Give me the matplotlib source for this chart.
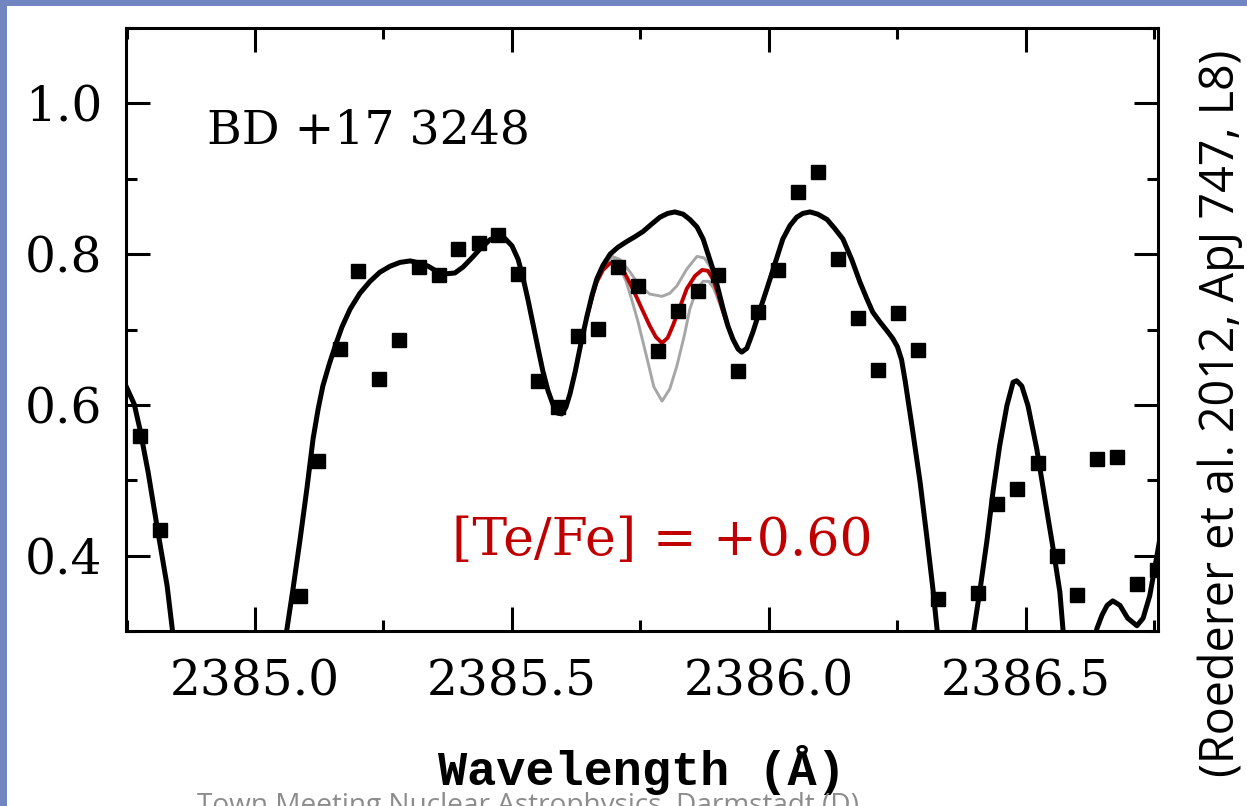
import matplotlib
matplotlib.use("Agg")
from matplotlib import pyplot as plt
from matplotlib.patches import Rectangle
from matplotlib.ticker import MultipleLocator, FormatStrFormatter

# observed spectrum (filled squares)
obs_wave = [2384.776, 2384.815, 2385.088, 2385.123, 2385.165, 2385.200, 2385.241, 2385.280,
            2385.319, 2385.358, 2385.395, 2385.436, 2385.473, 2385.512, 2385.551, 2385.589,
            2385.628, 2385.667, 2385.706, 2385.745, 2385.784, 2385.823, 2385.862, 2385.901,
            2385.940, 2385.979, 2386.018, 2386.056, 2386.095, 2386.134, 2386.173, 2386.212,
            2386.251, 2386.290, 2386.329, 2386.407, 2386.444, 2386.482, 2386.523, 2386.560,
            2386.599, 2386.638, 2386.677, 2386.716, 2386.755]
obs_flux = [0.559, 0.434, 0.346, 0.525, 0.674, 0.777, 0.634, 0.686,
            0.783, 0.772, 0.807, 0.815, 0.825, 0.774, 0.632, 0.597,
            0.691, 0.701, 0.783, 0.758, 0.672, 0.724, 0.751, 0.772,
            0.645, 0.723, 0.779, 0.882, 0.909, 0.793, 0.715, 0.646,
            0.722, 0.673, 0.343, 0.351, 0.469, 0.489, 0.523, 0.399,
            0.348, 0.528, 0.531, 0.363, 0.381]

# synthetic spectrum without Te (black), pieces between the deep lines
syn_a_wave = [2384.749, 2384.765, 2384.776, 2384.792, 2384.811, 2384.829, 2384.839, 2384.844]
syn_a_flux = [0.625, 0.601, 0.568, 0.511, 0.432, 0.360, 0.303, 0.277]

syn_b_wave = [2385.054, 2385.062, 2385.074, 2385.088, 2385.101, 2385.113, 2385.123, 2385.132,
              2385.144, 2385.156, 2385.169, 2385.185, 2385.204, 2385.224, 2385.243, 2385.263,
              2385.282, 2385.302, 2385.321, 2385.337, 2385.354, 2385.374, 2385.389, 2385.405,
              2385.422, 2385.438, 2385.457, 2385.473, 2385.486, 2385.500, 2385.512, 2385.521,
              2385.531, 2385.541, 2385.551, 2385.560, 2385.570, 2385.580, 2385.589, 2385.597,
              2385.605, 2385.613, 2385.623, 2385.634, 2385.646, 2385.656, 2385.665, 2385.677,
              2385.691, 2385.706, 2385.724, 2385.739, 2385.755, 2385.772, 2385.788, 2385.803,
              2385.817, 2385.833, 2385.846, 2385.860, 2385.872, 2385.881, 2385.891, 2385.901,
              2385.911, 2385.920, 2385.930, 2385.940, 2385.947, 2385.957, 2385.969, 2385.982,
              2385.996, 2386.012, 2386.027, 2386.041, 2386.054, 2386.066, 2386.080, 2386.095,
              2386.113, 2386.128, 2386.144, 2386.161, 2386.177, 2386.191, 2386.202, 2386.216,
              2386.230, 2386.241, 2386.250, 2386.258, 2386.265, 2386.280, 2386.294, 2386.307,
              2386.319, 2386.327, 2386.333]
syn_b_flux = [0.264, 0.302, 0.356, 0.423, 0.489, 0.555, 0.595, 0.625,
              0.653, 0.678, 0.703, 0.727, 0.748, 0.764, 0.776, 0.784,
              0.789, 0.791, 0.788, 0.784, 0.777, 0.774, 0.775, 0.783,
              0.795, 0.807, 0.819, 0.824, 0.821, 0.811, 0.793, 0.770,
              0.740, 0.707, 0.674, 0.645, 0.619, 0.600, 0.589, 0.588,
              0.597, 0.615, 0.644, 0.681, 0.718, 0.746, 0.767, 0.785,
              0.800, 0.809, 0.817, 0.823, 0.830, 0.840, 0.849, 0.854,
              0.856, 0.853, 0.846, 0.836, 0.820, 0.801, 0.780, 0.754,
              0.727, 0.705, 0.687, 0.674, 0.670, 0.675, 0.697, 0.725,
              0.754, 0.788, 0.820, 0.838, 0.849, 0.854, 0.856, 0.853,
              0.846, 0.834, 0.820, 0.793, 0.763, 0.740, 0.723, 0.710,
              0.698, 0.688, 0.677, 0.660, 0.632, 0.564, 0.498, 0.426,
              0.356, 0.303, 0.270]

syn_c_wave = [2386.395, 2386.399, 2386.411, 2386.424, 2386.436, 2386.449, 2386.463, 2386.475,
              2386.482, 2386.492, 2386.504, 2386.521, 2386.537, 2386.553, 2386.566, 2386.572,
              2386.576]
syn_c_flux = [0.270, 0.303, 0.356, 0.419, 0.485, 0.546, 0.599, 0.630,
              0.632, 0.625, 0.599, 0.542, 0.475, 0.409, 0.352, 0.303,
              0.270]

syn_d_wave = [2386.632, 2386.638, 2386.648, 2386.658, 2386.669, 2386.683, 2386.698, 2386.716,
              2386.728, 2386.741, 2386.755, 2386.760]
syn_d_flux = [0.285, 0.303, 0.321, 0.334, 0.340, 0.334, 0.317, 0.307,
              0.317, 0.347, 0.400, 0.420]

# [Te/Fe] = +0.60 (red) and +/-0.3 dex (grey)
te_wave = [2385.646, 2385.656, 2385.665, 2385.677, 2385.691, 2385.704, 2385.720, 2385.735,
           2385.753, 2385.768, 2385.780, 2385.792, 2385.803, 2385.813, 2385.827, 2385.840,
           2385.856, 2385.870, 2385.881, 2385.891, 2385.901, 2385.911, 2385.920]
te_flux = [0.717, 0.743, 0.763, 0.779, 0.788, 0.786, 0.774, 0.754,
           0.727, 0.705, 0.690, 0.682, 0.689, 0.705, 0.730, 0.754,
           0.771, 0.779, 0.778, 0.767, 0.747, 0.723, 0.705]

te_lo_wave = [2385.646, 2385.665, 2385.681, 2385.695, 2385.710, 2385.729, 2385.747, 2385.768,
              2385.792, 2385.807, 2385.821, 2385.840, 2385.860, 2385.874, 2385.885, 2385.899,
              2385.907, 2385.920]
te_lo_flux = [0.717, 0.764, 0.791, 0.797, 0.793, 0.777, 0.759, 0.747,
              0.744, 0.748, 0.758, 0.780, 0.797, 0.795, 0.784, 0.760,
              0.736, 0.705]

te_hi_wave = [2385.646, 2385.665, 2385.681, 2385.695, 2385.703, 2385.712, 2385.722, 2385.732,
              2385.745, 2385.763, 2385.776, 2385.792, 2385.807, 2385.821, 2385.835, 2385.846,
              2385.860, 2385.872, 2385.883, 2385.893, 2385.903, 2385.914, 2385.924]
te_hi_flux = [0.717, 0.764, 0.788, 0.796, 0.792, 0.780, 0.764, 0.742,
              0.711, 0.661, 0.624, 0.605, 0.621, 0.652, 0.691, 0.727,
              0.754, 0.764, 0.764, 0.754, 0.736, 0.717, 0.697]

W, H = 1247, 806
fig = plt.figure(figsize=(W / 100, H / 100), dpi=100, facecolor='white')
# blue slide background showing at the left and top edges
blue = '#7186c0'
fig.patches.append(Rectangle((0, 0), 7 / W, 1, transform=fig.transFigure,
                             facecolor=blue, edgecolor='none', zorder=-10))
fig.patches.append(Rectangle((0, 1 - 6 / H), 1, 6 / H, transform=fig.transFigure,
                             facecolor=blue, edgecolor='none', zorder=-10))

ax = fig.add_axes([126 / W, 1 - 631 / H, 1032 / W, 603 / H])
ax.set_facecolor('white')

grey = '#a6a6a6'
ax.plot(te_lo_wave, te_lo_flux, color=grey, lw=2.1, solid_joinstyle='round', zorder=2)
ax.plot(te_hi_wave, te_hi_flux, color=grey, lw=2.1, solid_joinstyle='round', zorder=2)
ax.plot(te_wave, te_flux, color='#c00000', lw=2.8, solid_joinstyle='round', zorder=3)
for xs, ys in [(syn_a_wave, syn_a_flux), (syn_b_wave, syn_b_flux),
               (syn_c_wave, syn_c_flux), (syn_d_wave, syn_d_flux)]:
    ax.plot(xs, ys, color='black', lw=3.6, solid_joinstyle='round', zorder=4)
ax.plot(obs_wave, obs_flux, 's', color='black', ms=10, zorder=5)

ax.set_xlim(2384.749, 2386.757)
ax.set_ylim(0.30, 1.10)

ax.xaxis.set_major_locator(MultipleLocator(0.5))
ax.xaxis.set_minor_locator(MultipleLocator(0.25))
ax.yaxis.set_major_locator(MultipleLocator(0.2))
ax.yaxis.set_minor_locator(MultipleLocator(0.1))
ax.xaxis.set_major_formatter(FormatStrFormatter('%.1f'))
ax.yaxis.set_major_formatter(FormatStrFormatter('%.1f'))

for s in ax.spines.values():
    s.set_linewidth(2.2)
ax.tick_params(which='both', direction='in', top=True, right=True, width=2.2,
               labelsize=35, labelfontfamily='DejaVu Serif')
ax.tick_params(which='major', length=17)
ax.tick_params(which='minor', length=8)
ax.tick_params(axis='x', pad=20)
ax.tick_params(axis='y', pad=17)

ax.set_xlabel('Wavelength (Å)', fontsize=35, family='Liberation Mono',
              fontweight='bold', labelpad=28)

ax.text(0.0785, 0.809, 'BD +17 3248', transform=ax.transAxes, fontsize=34,
        family='DejaVu Serif', va='baseline', ha='left')
ax.text(0.316, 0.126, '[Te/Fe] = +0.60', transform=ax.transAxes, fontsize=37.5,
        family='DejaVu Serif', color='#c00000', va='baseline', ha='left')

fig.text(0.979, 0.4876, '(Roederer et al. 2012, ApJ 747, L8)', rotation=90,
         fontsize=33.6, family='Open Sans', ha='center', va='center')
fig.text(197 / W, -7 / H, 'Town Meeting Nuclear Astrophysics, Darmstadt (D)',
         fontsize=20.2, family='Open Sans', color='#8c8c8c', ha='left', va='baseline')

fig.savefig('out.png', dpi=100, facecolor=fig.get_facecolor())
